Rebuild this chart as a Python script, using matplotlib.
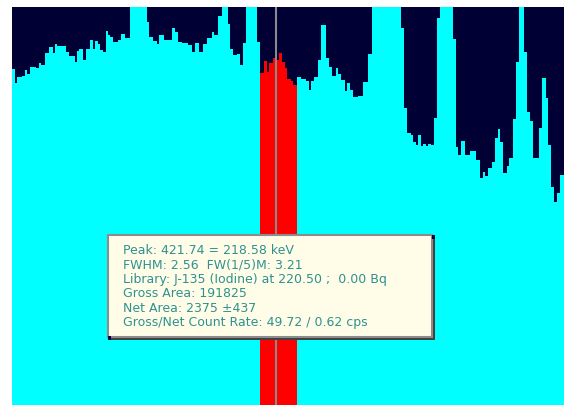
import numpy as np
import matplotlib.pyplot as plt
from matplotlib.patches import Rectangle

# spectrum: channel where each step starts, and counts in that step
channels = [0, 3, 5, 10, 13, 15, 18, 24, 27, 29, 33, 37, 41, 43, 45, 54, 57, 63, 65,
            67, 71, 74, 78, 81, 83, 86, 88, 91, 94, 96, 98, 101, 106, 109, 113, 118,
            135, 137, 141, 145, 147, 152, 160, 163, 166, 170, 176, 180, 183, 187, 191,
            195, 200, 202, 206, 210, 216, 218, 221, 225, 228, 231, 234, 245,
            248, 252, 255, 257, 261, 263, 265, 267, 270, 273, 275, 279, 281,
            285, 289, 294, 297, 299, 302, 306, 309, 314, 317, 320, 324, 326, 329,
            333, 335, 338, 341, 346, 351, 356, 360, 389, 392, 395, 399, 401, 404,
            406, 409, 411, 414, 416, 419, 422, 425, 428, 441, 444, 446, 449, 453,
            458, 464, 468, 471, 473, 476, 480, 483, 486, 488, 491, 495, 497, 501,
            504, 507, 512, 515, 518, 521, 527, 530, 534, 536, 539, 542, 545, 548]
counts = [336, 322, 328, 329, 335, 331, 338, 337, 342, 340, 352, 358, 352, 361, 359,
          353, 349, 343, 354, 356, 345, 356, 365, 356, 364, 361, 355, 353, 374, 370,
          368, 363, 365, 371, 367, 420, 383, 368, 364, 361, 370, 365, 377, 373, 363,
          362, 360, 353, 362, 353, 361, 367, 373, 370, 389, 420, 381, 356, 350, 351,
          340, 362, 420, 363,
          332, 344, 333, 342, 347, 348, 345, 352, 343, 337, 326, 324, 320,
          328, 326, 324, 315, 324, 328, 345, 380, 347, 338, 329, 337, 331, 325,
          314, 322, 315, 308, 309, 323, 351, 420, 377, 297, 272, 270, 263, 260,
          270, 259, 261, 259, 261, 260, 287, 387, 420, 366, 258, 250, 264, 250,
          254, 245, 227, 233, 229, 237, 243, 267, 276, 263, 232, 239, 247, 286,
          343, 420, 353, 293, 284, 247, 277, 327, 307, 260, 218, 203, 212, 230]
channel_end = 552

roi_start, roi_end = 248, 285      # region of interest (red)
cursor = 264

info = ['Peak: 421.74 = 218.58 keV',
        'FWHM: 2.56  FW(1/5)M: 3.21',
        'Library: J-135 (Iodine) at 220.50 ;  0.00 Bq',
        'Gross Area: 191825',
        'Net Area: 2375 \u00b1437',
        'Gross/Net Count Rate: 49.72 / 0.62 cps']

edges = np.array(channels + [channel_end])
vals = np.array(counts)

fig = plt.figure(figsize=(5.64, 4.05), dpi=100, facecolor='white')
ax = fig.add_axes([12 / 564, 0, 552 / 564, 398 / 405])
ax.set_facecolor('#000035')
ax.set_xlim(0, channel_end)
ax.set_ylim(0, 398)
ax.set_xticks([])
ax.set_yticks([])
for s in ax.spines.values():
    s.set_visible(False)

ax.stairs(vals, edges, fill=True, color='#00ffff', baseline=0)

# roi part in red
in_roi = (edges[:-1] >= roi_start) & (edges[:-1] < roi_end)
idx = np.where(in_roi)[0]
ax.stairs(vals[idx], edges[idx[0]:idx[-1] + 2], fill=True, color='#ff0000', baseline=0)

ax.axvline(cursor, color='#8a8a8a', lw=1.5)

# info box (axes fraction)
bx0, bx1 = (108 - 12) / 552, (435 - 12) / 552
by0, by1 = (405 - 340) / 398, (405 - 235) / 398
tr = ax.transAxes
ax.add_patch(Rectangle((bx0, by0), bx1 - bx0, by1 - by0, transform=tr,
                       facecolor='#404040', edgecolor='none', zorder=5))
ax.add_patch(Rectangle((bx0, by0 + 3 / 398), bx1 - bx0 - 3 / 552, by1 - by0 - 3 / 398,
                       transform=tr, facecolor='#fffde8', edgecolor='#8c8c8c',
                       lw=1.5, zorder=6))
for (hx, hy) in [(bx1 - 3 / 552, by1 - 4 / 398), (bx0, by0)]:
    ax.add_patch(Rectangle((hx, hy), 3 / 552, 4 / 398, transform=tr,
                           facecolor='#000040', edgecolor='none', zorder=7))

for i, line in enumerate(info):
    ypx = 250.5 + 14.4 * i
    ax.text((123 - 12) / 552, (405 - ypx) / 398, line, transform=tr,
            fontsize=9, color='#2f9191', va='center', ha='left',
            family='DejaVu Sans', zorder=8)

fig.savefig('out.png', dpi=100, facecolor='white')
